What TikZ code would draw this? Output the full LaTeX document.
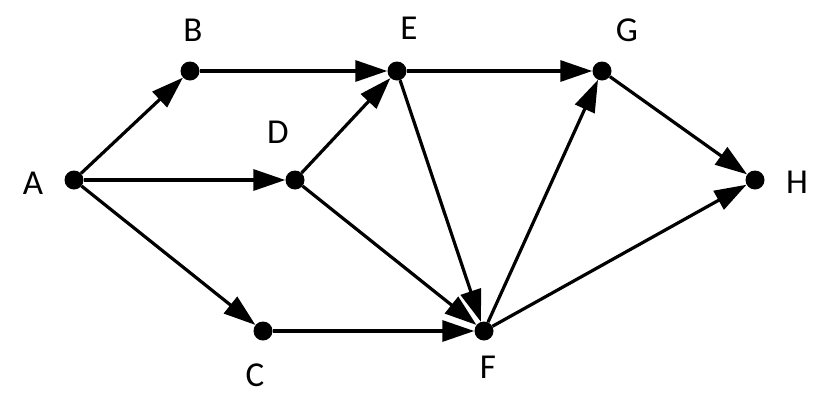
\documentclass[tikz,border=0pt]{standalone}
\usepackage{fontspec}
\setmainfont{Carlito}
\usetikzlibrary{arrows.meta}

\tikzset{
	dot/.style={circle,fill=black,inner sep=0pt,minimum size=19pt},
	lbl/.style={font=\fontsize{35}{40}\selectfont},
	edge/.style={line width=3.2pt,-{Triangle[length=32pt,width=21pt]}}
}

\begin{document}
\begin{tikzpicture}[x=1pt,y=-1pt]
\useasboundingbox (0,0) rectangle (820,400);
% vertices
\node [dot] (A) at (74,180) {};
\node [dot] (B) at (190,71) {};
\node [dot] (C) at (263,331) {};
\node [dot] (D) at (295,180) {};
\node [dot] (E) at (397,71) {};
\node [dot] (F) at (484,331) {};
\node [dot] (G) at (602,71) {};
\node [dot] (H) at (755,180) {};
% names
\node [lbl] (lA) at (33,183) {A};
\node [lbl] (lB) at (193,30) {B};
\node [lbl] (lC) at (255,375) {C};
\node [lbl] (lD) at (278,132) {D};
\node [lbl] (lE) at (409,28) {E};
\node [lbl] (lF) at (488,367) {F};
\node [lbl] (lG) at (627,30) {G};
\node [lbl] (lH) at (797,182) {H};
% arcs
\draw [edge] (A) -- (B);
\draw [edge] (A) -- (D);
\draw [edge] (A) -- (C);
\draw [edge] (B) -- (E);
\draw [edge] (D) -- (E);
\draw [edge] (D) -- (F);
\draw [edge] (E) -- (G);
\draw [edge] (E) -- (F);
\draw [edge] (C) -- (F);
\draw [edge] (F) -- (G);
\draw [edge] (F) -- (H);
\draw [edge] (G) -- (H);
\end{tikzpicture}
\end{document}
